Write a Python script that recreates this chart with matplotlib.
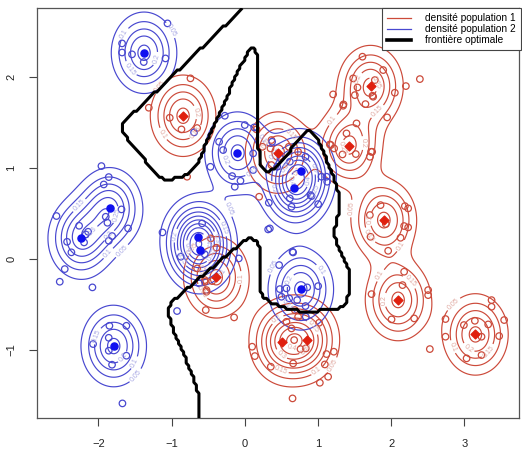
import numpy as np
import matplotlib.pyplot as plt
from matplotlib.lines import Line2D

plt.rcParams['font.family'] = ['Liberation Sans', 'DejaVu Sans']

# centres des composantes de chaque mélange
centre1_x = [-0.843, 0.455, 1.717, 1.421, 1.899, 2.094, 3.150, 0.510, 0.843, -0.390]
centre1_y = [1.575, 1.170, 1.901, 1.242, 0.429, -0.450, -0.828, -0.908, -0.890, -0.200]
centre2_x = [-1.376, -0.100, 0.765, 0.674, -1.844, -2.240, -0.645, -0.610, -1.790, 0.765]
centre2_y = [2.267, 1.170, 0.967, 0.777, 0.557, 0.227, 0.240, 0.095, -0.956, -0.333]

# échantillon population 1
pop1_x = [-0.742, -1.311, -1.025, -0.865, -0.651, -0.788,
          -0.464, -0.387, -0.651, -0.546, -0.446, -0.523, -0.546, -0.523, -0.146, -0.533, 0.196,
          0.683, 0.728, 0.569, 0.638, 1.015, 0.674, 0.761, 0.833, 0.100, 0.137, 0.355, 0.660,
          1.116, 1.216, 1.093, 1.138, 1.025, 0.652,
          1.854, 2.186, 2.231, 1.708, 1.926, 2.176, 2.231, 1.717, 2.127, 1.958,
          2.176, 1.731, 2.154, 2.504, 2.504, 2.004, 2.313, 2.527,
          3.370, 3.370, 2.741, 2.992, 3.142, 3.324, 3.542, 2.741, 3.233, 3.474, 3.029, 3.233,
          1.607, 1.890, 2.391, 1.776, 2.200, 1.744, 2.049, 1.648, 1.944, 1.739, 1.708,
          1.480, 1.539, 1.503, 1.753, 1.206, 1.348, 1.526, 1.389, 1.175, 1.334, 1.516, 1.726,
          0.242, 0.351, 0.160, 0.601, 0.728, 0.364, 1.161, 1.220, 1.343, 0.364]
pop1_y = [1.986, 1.663, 1.553, 1.425, 1.440, 0.905,
          0.227, 0.125, -0.103, -0.249, -0.242, -0.359, -0.231, -0.341, -0.641, -0.560, 0.685,
          -0.560, -0.634, -0.689, -0.762, -0.700, -0.890, -0.989, -0.982, -0.963, -1.066, -1.183, -1.147,
          -1.044, -1.018, -1.158, -1.293, -1.359, -1.531,
          0.593, 0.582, 0.557, 0.484, 0.385, 0.363, 0.348, 0.245, 0.234, 0.091,
          -0.139, -0.385, -0.286, -0.341, -0.396, -0.663, -0.652, -0.989,
          -0.451, -0.524, -0.659, -0.725, -0.678, -0.718, -0.670, -0.853, -0.853, -0.846, -1.091, -1.055,
          2.224, 2.077, 1.978, 1.967, 1.901, 1.795, 1.828, 1.703, 1.557, 1.179, 1.124,
          1.986, 1.886, 1.802, 1.784, 1.810, 1.700, 1.491, 1.381, 1.253, 1.150, 1.154, 1.179,
          1.234, 1.216, 1.425, 1.234, 1.179, 1.033, 1.260, 1.216, 1.685, 1.308]

# échantillon population 2
pop2_x = [-1.056, -1.676, -1.676, -1.540, -1.380, -1.083, -0.693,
          -2.572, -1.684, -1.899, -1.876, -1.594, -2.263, -2.140, -2.172, -2.195, -2.427, -2.368,
          -1.812, -1.858, -2.459, -2.527, -2.081, -1.958, -1.858, -1.926,
          -1.849, -1.617, -2.072, -1.858, -1.858, -1.617, -1.813, -1.671, -0.925,
          -1.124, -0.583, -0.874, -0.546, -0.082, -0.624, 0.319,
          0.660, 0.469, 0.478, 0.569, 0.501, 0.606, 0.715, 0.852, 1.002, 0.829, 0.833, 0.342,
          -0.273, 0.000, 0.128, -0.351, 0.114, -0.469, -0.173, -0.059, -0.137, -0.296, 0.114,
          0.373, 0.487, 0.615, 0.829, 1.047, 1.116, 0.897, 0.442,
          0.328, 0.615, 0.638, 0.911, 1.002, 1.125, 0.652]
pop2_y = [2.590, 2.370, 2.270, 2.250, 2.165, 2.205, 1.392,
          0.473, 0.546, 0.465, 0.399, 0.337, 0.366, 0.300, 0.271, 0.183, 0.190, 0.074,
          0.253, 0.201, -0.110, -0.249, -0.311, 1.022, 0.901, 0.820,
          -0.733, -0.733, -0.934, -0.865, -1.007, -1.062, -1.161, -1.586, -0.571,
          0.293, 0.392, 0.026, 0.052, 0.007, -0.267, 0.326,
          0.073, -0.066, -0.330, -0.322, -0.414, -0.432, -0.451, -0.311, -0.297, -0.516, -0.634, 0.337,
          1.575, 1.473, 1.447, 1.289, 1.161, 1.014, 0.912, 0.860, 0.795, 1.198, 0.978,
          1.289, 1.106, 1.070, 1.124, 0.905, 0.905, 0.703, 1.014,
          0.619, 0.667, 0.575, 0.692, 0.604, 0.850, 0.080]

variance = 0.06
niveaux = [0.05, 0.1, 0.15, 0.2, 0.25, 0.3, 0.35, 0.4, 0.45, 0.5, 0.55, 0.6]

col1 = '#cc4a3a'
col2 = '#4848d0'


def densite(cx, cy, X, Y):
    d = np.zeros_like(X)
    for a, b in zip(cx, cy):
        d += np.exp(-((X - a) ** 2 + (Y - b) ** 2) / (2 * variance))
    return d / (2 * np.pi * variance * len(cx))


xmin, xmax = -2.837, 3.743
ymin, ymax = -1.747, 2.758

gx = np.linspace(xmin, xmax, 400)
gy = np.linspace(ymin, ymax, 320)
X, Y = np.meshgrid(gx, gy)
d1 = densite(centre1_x, centre1_y, X, Y)
d2 = densite(centre2_x, centre2_y, X, Y)

# grille plus grossière pour la règle de Bayes
bx = np.linspace(xmin, xmax, 190)
by = np.linspace(ymin, ymax, 150)
BX, BY = np.meshgrid(bx, by)
classe = (densite(centre1_x, centre1_y, BX, BY) > densite(centre2_x, centre2_y, BX, BY)).astype(float)

fig = plt.figure(figsize=(5.22, 4.5), dpi=100)
ax = fig.add_axes([0.071, 0.071, 0.923, 0.911])

cs1 = ax.contour(X, Y, d1, levels=niveaux, colors=col1, linewidths=0.85)
cs2 = ax.contour(X, Y, d2, levels=niveaux, colors=col2, linewidths=0.85)
ax.clabel(cs1, fontsize=5, colors='#e0a8a0', fmt='%g', inline=True, inline_spacing=2)
ax.clabel(cs2, fontsize=5, colors='#a8a8e4', fmt='%g', inline=True, inline_spacing=2)

ax.scatter(pop1_x, pop1_y, s=22, facecolors='none', edgecolors=col1, linewidths=0.9, zorder=3)
ax.scatter(pop2_x, pop2_y, s=22, facecolors='none', edgecolors=col2, linewidths=0.9, zorder=3)

ax.contour(BX, BY, classe, levels=[0.5], colors='black', linewidths=2.2, zorder=4)

ax.scatter(centre1_x, centre1_y, s=20, marker='D', color='#e0200f', zorder=5)
ax.scatter(centre2_x, centre2_y, s=26, marker='o', color='#1010f0', zorder=5)

ax.set_xlim(xmin, xmax)
ax.set_ylim(ymin, ymax)
ax.set_xticks([-2, -1, 0, 1, 2, 3])
ax.set_yticks([-1, 0, 1, 2])
ax.tick_params(direction='out', length=6, width=0.8, colors='#444444', labelsize=8,
               labelcolor='#222222', pad=9)
plt.setp(ax.get_yticklabels(), rotation=90, va='center')
for s in ax.spines.values():
    s.set_color('#555555')
    s.set_linewidth(0.9)

handles = [Line2D([], [], color=col1, lw=0.9),
           Line2D([], [], color=col2, lw=0.9),
           Line2D([], [], color='black', lw=2.6)]
leg = ax.legend(handles, ['densité population 1', 'densité population 2', 'frontière optimale'],
                loc='upper right', fontsize=7.3, handlelength=2.4, handletextpad=1.4,
                borderpad=0.5, labelspacing=0.1, fancybox=False, framealpha=1,
                borderaxespad=0, bbox_to_anchor=(1.004, 1.0))
leg.get_frame().set_edgecolor('#444444')
leg.get_frame().set_linewidth(0.8)

fig.savefig('out.png', dpi=100)
